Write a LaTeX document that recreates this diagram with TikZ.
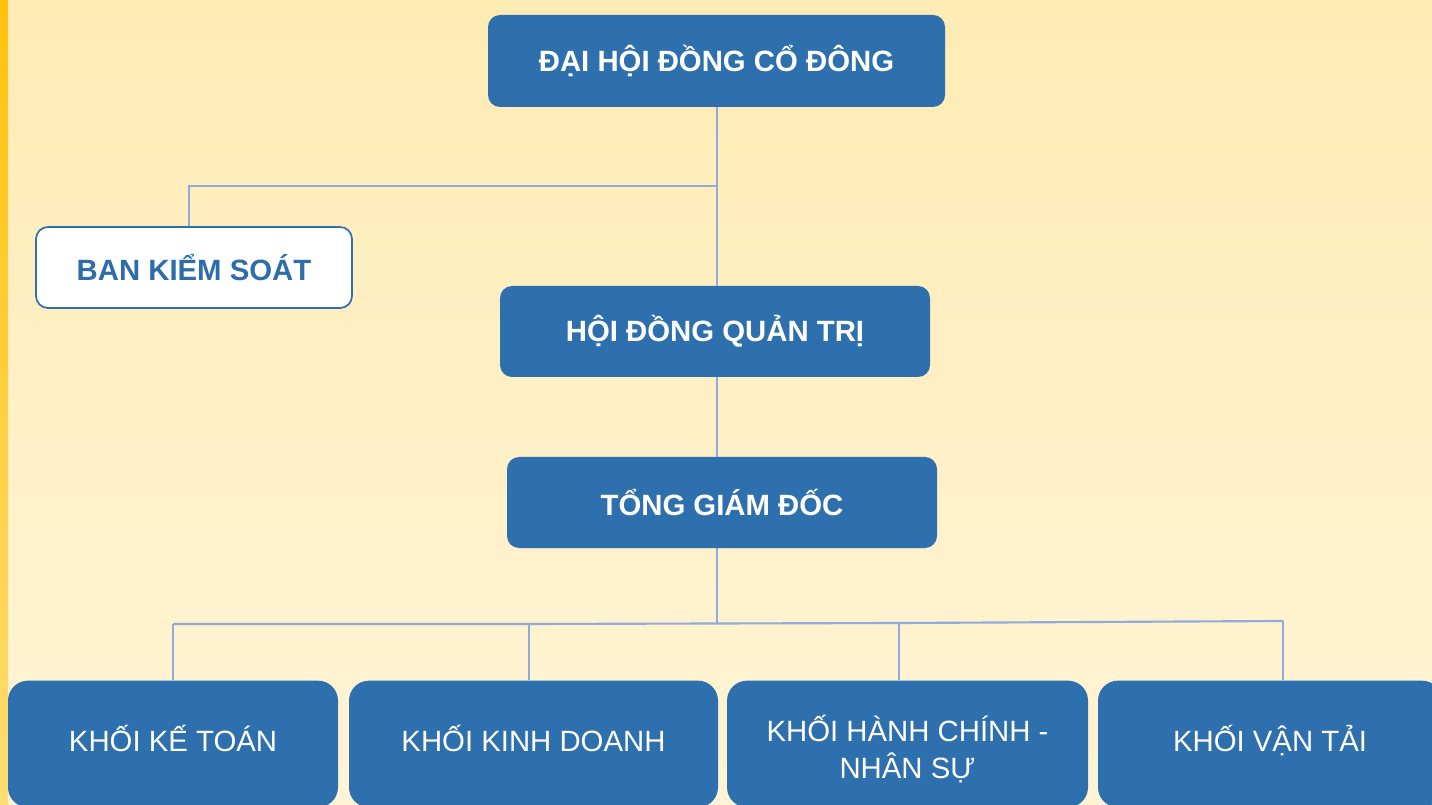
\documentclass[tikz,border=0pt]{standalone}
\usepackage{fontspec}
\setmainfont{Liberation Sans}
\definecolor{boxblue}{HTML}{2E70AD}
\definecolor{textblue}{HTML}{2E6DAA}
\definecolor{linecol}{HTML}{8FAADC}
\definecolor{bgtop}{HTML}{FFEBB4}
\definecolor{bgbot}{HTML}{FFF4D6}
\definecolor{striptop}{HTML}{FFC20E}
\definecolor{stripbot}{HTML}{FFDD72}
\tikzset{
  topbox/.style={draw=none, fill=boxblue, rounded corners=9pt, text=white,
    font=\fontsize{22pt}{26pt}\selectfont\bfseries, align=center, inner sep=0pt},
  whitebox/.style={draw=boxblue, line width=1.3pt, fill=white, rounded corners=9pt, text=textblue,
    font=\fontsize{22pt}{26pt}\selectfont\bfseries, align=center, inner sep=0pt},
  botbox/.style={draw=none, fill=boxblue, rounded corners=15pt, text=white,
    font=\fontsize{22pt}{27.75pt}\selectfont, inner sep=0pt, minimum height=95pt},
  oneline/.style={text height=20pt, text depth=8.75pt},
  twoline/.style={text height=56pt, text depth=4.25pt},
  conn/.style={draw=linecol, line width=1.6pt},
}
\begin{document}
\begin{tikzpicture}[x=0.75pt,y=-0.75pt]
\useasboundingbox (0,0) rectangle (1432,805);
\shade[top color=bgtop, bottom color=bgbot] (0,0) rectangle (1432,805);
\shade[top color=striptop, bottom color=stripbot] (0,0) rectangle (8,805);
\begin{scope}
\clip (0,0) rectangle (1432,805);
% nodes
\node[topbox, minimum width=342.75pt, minimum height=69pt] (dh) at (716.5,61) {ĐẠI HỘI ĐỒNG CỔ ĐÔNG};
\node[whitebox, minimum width=237pt, minimum height=60.75pt] (bk) at (194,267.5) {BAN KIỂM SOÁT};
\node[topbox, minimum width=322.5pt, minimum height=68.25pt] (hq) at (715,331.5) {HỘI ĐỒNG QUẢN TRỊ};
\node[topbox, minimum width=322.5pt, minimum height=68.25pt] (tg) at (722,502.5) {TỔNG GIÁM ĐỐC};
\node[botbox, oneline, minimum width=247.5pt] (b1) at (173,744) {KHỐI KẾ TOÁN};
\node[botbox, oneline, minimum width=276.75pt] (b2) at (533.5,744) {KHỐI KINH DOANH};
\node[botbox, twoline, minimum width=270.75pt] (b3) at (907.5,744) {\begin{tabular}[b]{@{}c@{}}KHỐI HÀNH CHÍNH -\\NHÂN SỰ\end{tabular}};
\node[botbox, oneline, minimum width=258pt] (b4) at (1270,744) {KHỐI VẬN TẢI};
% connector points
\coordinate (j1) at (717,186);
\coordinate (tgout) at (717,548);
\coordinate (j2) at (717,623);
\coordinate (t1) at (173,624);
\coordinate (t2) at (529,624);
\coordinate (t3) at (899,623);
\coordinate (t4) at (1283,621);
\coordinate (bkin) at (189,186);
% connectors
\draw[conn] (dh.south -| j1) -- (j1 |- hq.north);
\draw[conn] (j1) -- (bkin) -- (bkin |- bk.north);
\draw[conn] (hq.south -| j1) -- (j1 |- tg.north);
\draw[conn] (tgout) -- (j2);
\draw[conn] (t1) -- (t2) -- (t3) -- (t4);
\draw[conn] (t1) -- (t1 |- b1.north);
\draw[conn] (t2) -- (t2 |- b2.north);
\draw[conn] (t3) -- (t3 |- b3.north);
\draw[conn] (t4) -- (t4 |- b4.north);
\end{scope}
\end{tikzpicture}
\end{document}
